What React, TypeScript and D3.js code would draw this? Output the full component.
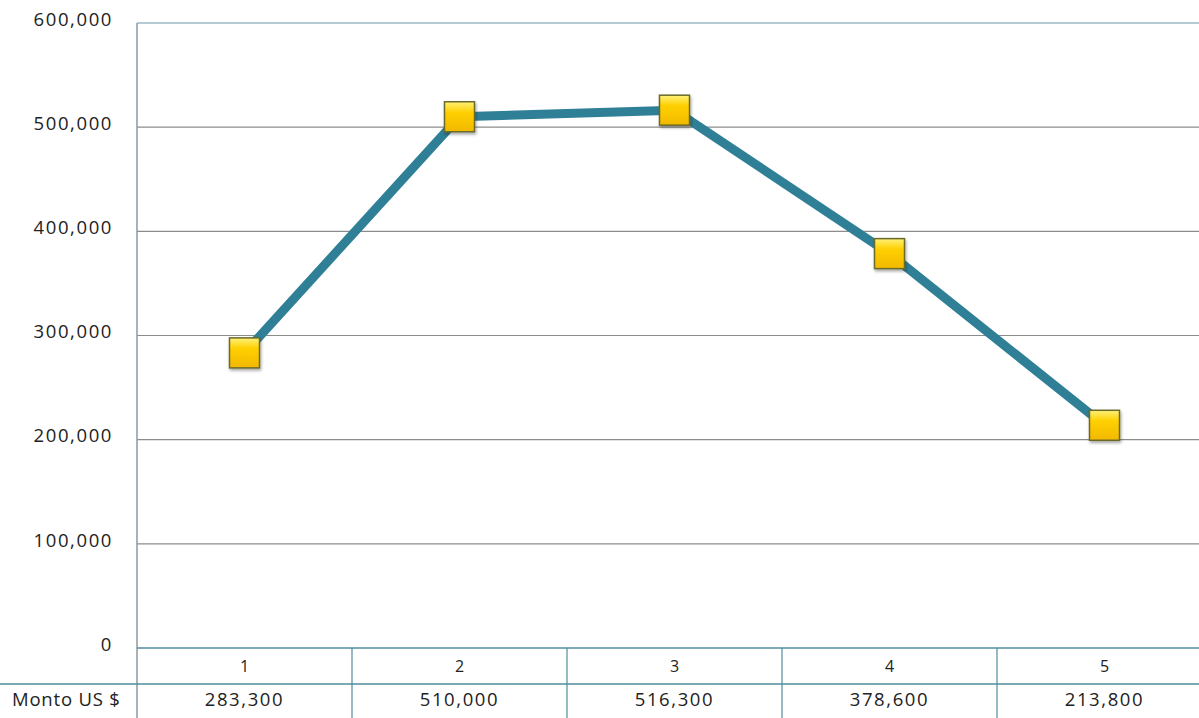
import React from "react";
import * as d3 from "d3";

const categories = ["1", "2", "3", "4", "5"];
const seriesName = "Monto US $";
const values = [283300, 510000, 516300, 378600, 213800];
const yTicks = [0, 100000, 200000, 300000, 400000, 500000, 600000];

export default function App() {
  const W = 1199, H = 718;
  const left = 137, top = 23, colW = 215;
  const right = left + colW * categories.length;
  const bottom = 648;
  const rowH = 36;
  const x = d3.scaleBand<string>().domain(categories).range([left, right]).padding(0);
  const y = d3.scaleLinear().domain([0, 600000]).range([bottom, top]);
  const fmt = d3.format(",");
  const line = d3.line<number>().x((_, i) => x(categories[i])! + x.bandwidth() / 2).y(d => y(d));
  const font = "'Open Sans', Lato, sans-serif";
  const tableColor = "#4f8e9c";
  const ms = 30;
  return (
    <svg width={W} height={H} style={{ position: "absolute", left: 0, top: 0, fontFamily: font }}>
      <defs>
        <linearGradient id="mk" x1="0" y1="0" x2="0" y2="1">
          <stop offset="0" stopColor="#fff27a" />
          <stop offset="0.35" stopColor="#ffd000" />
          <stop offset="1" stopColor="#f2b800" />
        </linearGradient>
        <filter id="sh" x="-30%" y="-30%" width="160%" height="160%">
          <feDropShadow dx="1" dy="2" stdDeviation="1.5" floodColor="#000" floodOpacity="0.35" />
        </filter>
      </defs>
      <rect x={0} y={0} width={W} height={H} fill="#fff" />
      {yTicks.slice(1, -1).map(t => (
        <line key={t} x1={left} x2={right} y1={y(t)} y2={y(t)} stroke="#8c8c8c" strokeWidth={1.2} />
      ))}
      <line x1={left} x2={right} y1={y(600000)} y2={y(600000)} stroke="#6a98a8" strokeWidth={1.2} />
      <line x1={left} x2={left} y1={top} y2={H} stroke="#8a9aa0" strokeWidth={1.5} />
      {yTicks.map(t => (
        <text key={t} x={113} y={y(t)} dy="0.15em" textAnchor="end" fontSize={18.5} letterSpacing={1.6} fill="#222">{fmt(t)}</text>
      ))}
      {/* data table */}
      <line x1={left} x2={right} y1={bottom} y2={bottom} stroke={tableColor} strokeWidth={1.5} />
      <line x1={0} x2={right} y1={bottom + rowH} y2={bottom + rowH} stroke={tableColor} strokeWidth={1.5} />
      {categories.map((c, i) => (
        <g key={c}>
          {i > 0 && <line x1={x(c)} x2={x(c)} y1={bottom} y2={H} stroke={tableColor} strokeWidth={1.2} />}
          <text x={x(c)! + x.bandwidth() / 2} y={bottom + rowH / 2 + 6} textAnchor="middle" fontSize={16} fill="#222">{c}</text>
          <text x={x(c)! + x.bandwidth() / 2} y={bottom + rowH + 22} textAnchor="middle" fontSize={18.5} letterSpacing={1.6} fill="#222">{fmt(values[i])}</text>
        </g>
      ))}
      <text x={12} y={bottom + rowH + 22} fontSize={18.5} letterSpacing={0.8} fill="#222">{seriesName}</text>
      <path d={line(values)!} fill="none" stroke="#2f7f96" strokeWidth={9} strokeLinejoin="round" />
      {values.map((v, i) => (
        <rect key={i} x={x(categories[i])! + x.bandwidth() / 2 - ms / 2} y={y(v) - ms / 2} width={ms} height={ms}
          fill="url(#mk)" stroke="#6b6a2a" strokeWidth={1.5} filter="url(#sh)" />
      ))}
    </svg>
  );
}
